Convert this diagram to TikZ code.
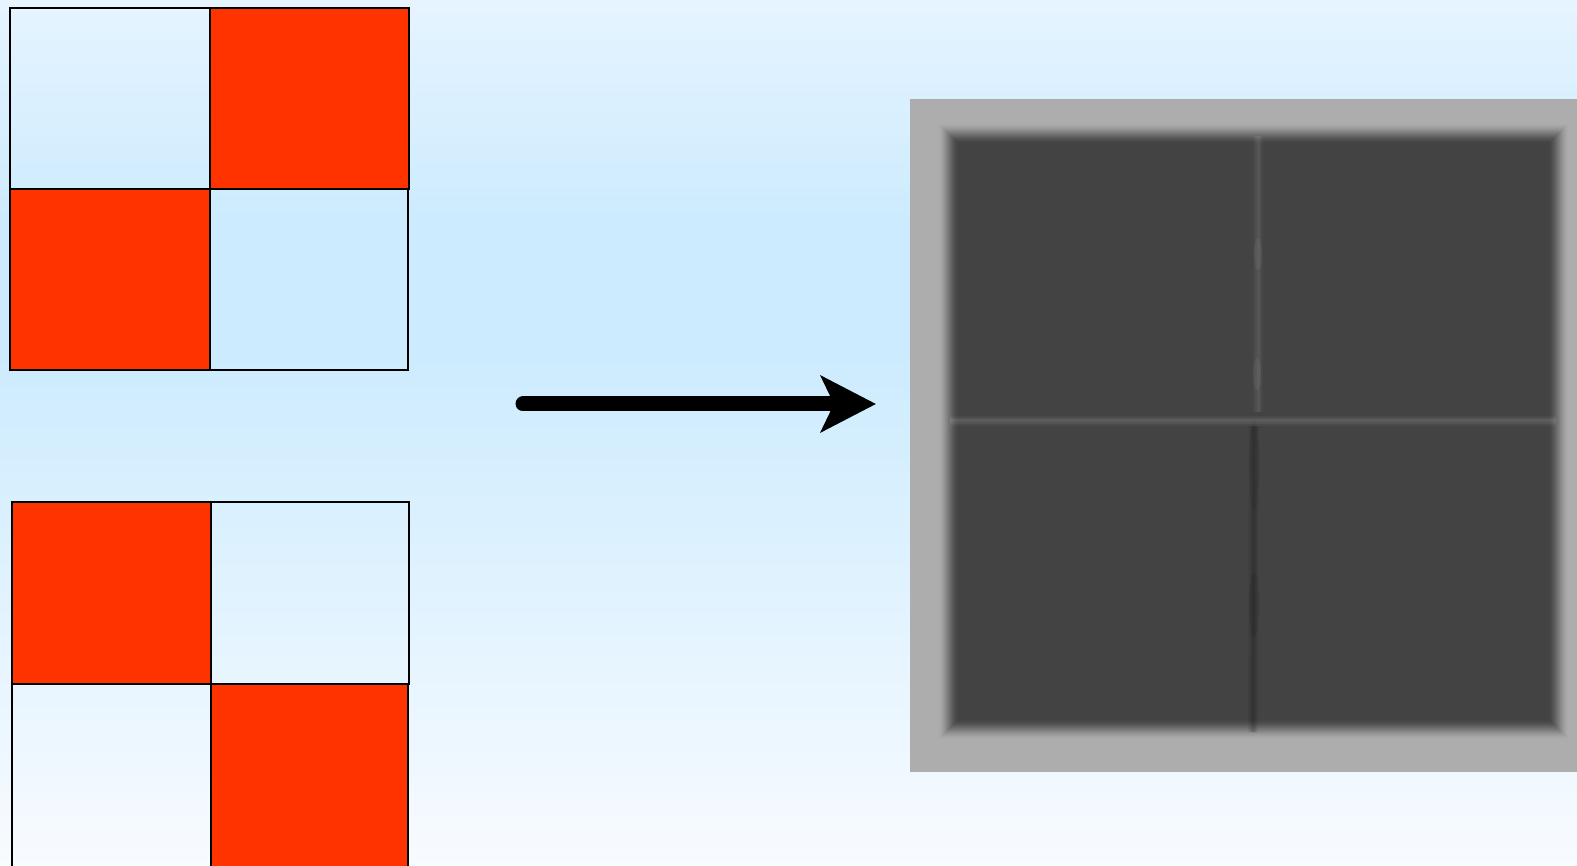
\documentclass[tikz,border=0pt]{standalone}
\usetikzlibrary{arrows.meta}
\definecolor{bgtop}{RGB}{230,244,255}
\definecolor{bgmid}{RGB}{204,235,254}
\definecolor{bgbot}{RGB}{248,251,255}
\definecolor{cellred}{RGB}{255,51,0}
\definecolor{framegray}{RGB}{173,173,173}
\definecolor{darkgray}{RGB}{67,67,67}
% the box of a shaded path spans 25bp..75bp of the shading
\pgfdeclareverticalshading{backdrop}{100bp}{color(0bp)=(bgbot); color(25bp)=(bgbot); color(55bp)=(bgmid); color(62bp)=(bgmid); color(75bp)=(bgtop); color(100bp)=(bgtop)}
\tikzset{
  cell/.style={draw=black, line width=2.2pt},
  redcell/.style={cell, fill=cellred},
  bigarrow/.style={line width=15pt, line cap=round, -{Stealth[length=55pt, width=56pt, inset=13pt]}},
}
\begin{document}
\begin{tikzpicture}[x=1pt, y=-1pt]
  \useasboundingbox (0,0) rectangle (1577,866);
  \clip (0,0) rectangle (1577,866);
  \shade[shading=backdrop] (0,0) rectangle (1577,866);

  % upper checkerboard
  \draw[cell] (10,8) rectangle (210,189);
  \draw[cell] (210,189) rectangle (408,370);
  \draw[redcell] (210,8) rectangle (409,189);
  \draw[redcell] (10,189) rectangle (210,370);

  % lower checkerboard
  \draw[cell] (211,502) rectangle (409,684);
  \draw[cell] (12,684) rectangle (211,880);
  \draw[redcell] (12,502) rectangle (211,684);
  \draw[redcell] (211,684) rectangle (408,880);

  % arrow
  \coordinate (arrowstart) at (523,404);
  \coordinate (arrowend) at (876,404);
  \draw[bigarrow] (arrowstart) -- (arrowend);

  % blurred result image: grey frame with a soft-edged dark square
  \fill[framegray] (910,99) rectangle (1577,772);
  \foreach \i in {0,...,22} {
    \pgfmathsetmacro\t{\i/22}
    \pgfmathsetmacro\m{100*\t*\t*(3-2*\t)}
    \fill[darkgray!\m!framegray] (937+\i,122+\i) rectangle (1570-\i,741-\i);
  }
  % faint, soft seams between the four blurred cells
  \foreach \w/\o in {10/0.04, 6/0.05, 3/0.05} {
    \draw[line width=\w pt, white, opacity=\o] (950,421) -- (1556,421);
    \draw[line width=\w pt, white, opacity=0.8*\o] (1258,136) -- (1258,412);
    \draw[line width=\w pt, black, opacity=1.6*\o] (1254,426) -- (1253,732);
  }
  \fill[white, opacity=0.05] (1258,254) ellipse (4 and 16);
  \fill[white, opacity=0.05] (1257,374) ellipse (4 and 16);
  \fill[black, opacity=0.08] (1254,605) ellipse (5 and 32);
  \fill[black, opacity=0.05] (1254,465) ellipse (5 and 45);
\end{tikzpicture}
\end{document}
